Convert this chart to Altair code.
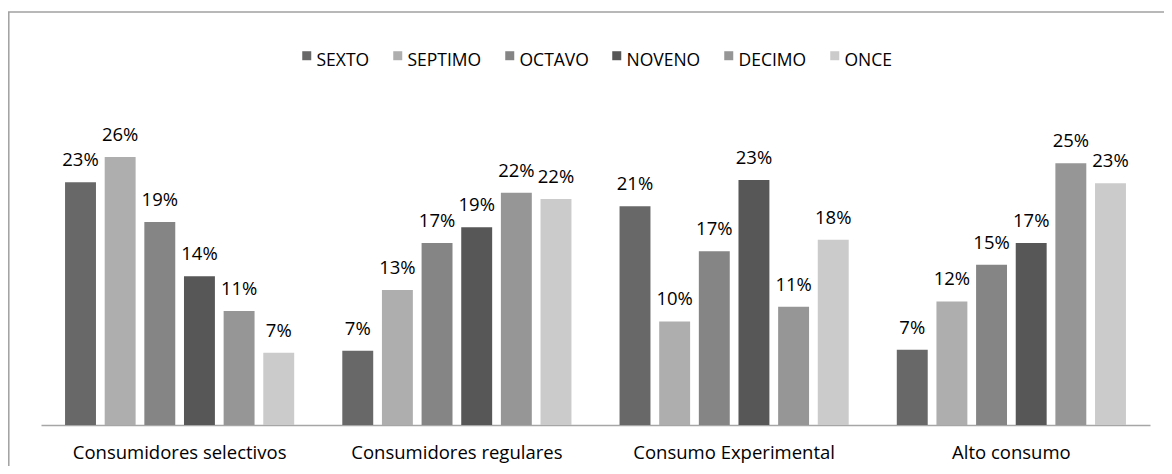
import altair as alt
import pandas as pd

categories = ["Consumidores selectivos", "Consumidores regulares", "Consumo Experimental", "Alto consumo"]
grades = ["SEXTO", "SEPTIMO", "OCTAVO", "NOVENO", "DECIMO", "ONCE"]
colors = ["#686868", "#aeaeae", "#858585", "#575757", "#969696", "#cbcbcb"]

sexto = [23.2, 7.1, 20.9, 7.2]
septimo = [25.6, 12.9, 9.9, 11.8]
octavo = [19.4, 17.4, 16.6, 15.3]
noveno = [14.2, 18.9, 23.4, 17.4]
decimo = [10.9, 22.2, 11.3, 25.0]
once = [6.9, 21.6, 17.7, 23.1]

series = [sexto, septimo, octavo, noveno, decimo, once]
rows = []
for g, vals in zip(grades, series):
    for c, v in zip(categories, vals):
        rows.append({"categoria": c, "grado": g, "valor": v})
df = pd.DataFrame(rows)

FONT = "Open Sans"
FS = 17.5
FS_BIG = 18.5
W, H = 1109, 314

x = alt.X("categoria:N", sort=categories, title=None,
          scale=alt.Scale(paddingInner=0.142, paddingOuter=0.071),
          axis=alt.Axis(labelAngle=0, ticks=False, domainColor="#a6a6a6", domainWidth=1.5,
                        labelFont=FONT, labelFontSize=FS_BIG, labelColor="#000000", labelPadding=18,
                        labelLimit=0))
xo = alt.XOffset("grado:N", sort=grades, scale=alt.Scale(paddingInner=0.22, paddingOuter=0.11))
y = alt.Y("valor:Q", scale=alt.Scale(domain=[0, 30]), axis=None)

base = alt.Chart(df)

bars = base.mark_bar().encode(
    x=x, xOffset=xo, y=y,
    color=alt.Color("grado:N", sort=grades,
                    scale=alt.Scale(domain=grades, range=colors),
                    legend=alt.Legend(title=None, orient="none", legendX=257, legendY=-59,
                                      direction="horizontal", columns=6,
                                      symbolType="M-1,-2.2H1V-0.2H-1Z", symbolSize=81,
                                      symbolStrokeWidth=0, labelFont=FONT, labelFontSize=FS,
                                      labelColor="#000000", labelOffset=1, columnPadding=19)),
)

labels = base.transform_calculate(
    etiqueta="format(datum.valor, '.0f') + '%'"
).mark_text(font=FONT, fontSize=FS_BIG, color="#000000", baseline="middle", dy=-22).encode(
    x=x, xOffset=xo, y=y, text="etiqueta:N"
)

border_v = alt.Chart(pd.DataFrame({"k": [0]})).mark_rule(color="#a0a0a0", strokeWidth=1.5).encode(
    x=alt.value(-32.2), y=alt.value(-99), y2=alt.value(360)
)
border_h = alt.Chart(pd.DataFrame({"k": [0]})).mark_rule(color="#a0a0a0", strokeWidth=1.5).encode(
    x=alt.value(-33), x2=alt.value(1130), y=alt.value(-99)
)

chart = alt.layer(bars, labels, border_v, border_h).properties(
    width=W, height=H,
    autosize=alt.AutoSizeParams(type="none"),
    padding={"left": 33, "top": 103, "right": 14, "bottom": 41},
).configure(background="white").configure_view(stroke=None, strokeWidth=0)

chart.save("out.html", embed_options={"renderer": "svg", "actions": False})
